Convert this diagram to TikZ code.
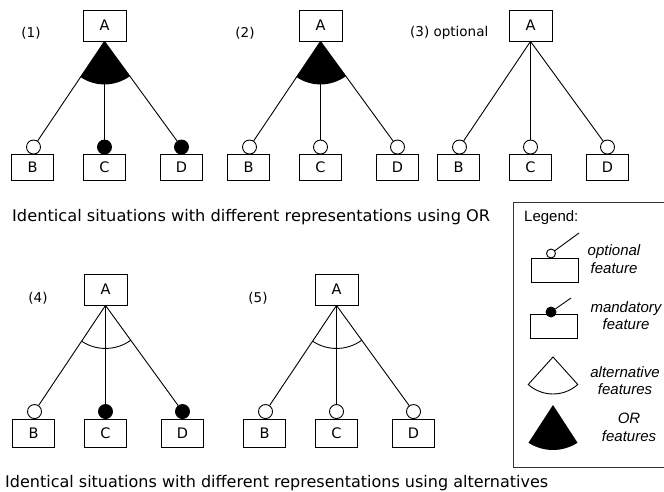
\documentclass[tikz,border=0pt]{standalone}
\usepackage{fontspec}
\setmainfont{DejaVu Sans}
\newfontfamily\legfont{Liberation Sans}
\usetikzlibrary{calc}
\tikzset{
  feat/.style={draw, line width=0.9pt, minimum width=43pt, minimum height=31pt, inner sep=0pt,
    font=\fontsize{14.5}{16}\selectfont},
  opt/.style={circle, draw, fill=white, minimum size=14pt, inner sep=0pt, line width=0.9pt},
  mand/.style={opt, fill=black},
  conn/.style={line width=0.9pt},
  lbl/.style={font=\fontsize{13.5}{16}\selectfont, inner sep=0pt},
  captxt/.style={font=\fontsize{16}{18}\selectfont, inner sep=0pt, anchor=base west},
  legtxt/.style={font=\legfont\itshape\fontsize{15}{17.5}\selectfont, align=center, inner sep=0pt},
  legbox/.style={draw, line width=0.9pt, minimum width=47pt, minimum height=24pt, inner sep=0pt},
}
% #1 id, #2 x of A, #3 y of A, #4 y of bottom boxes, #5 height of bottom boxes, #6 #7 #8 circle kinds
\newcommand{\fmtree}[8]{%
  \node[feat] (a#1) at (#2,#3) {A};
  \node[feat, minimum width=42pt, minimum height=#5pt] (b#1) at (#2-72,#4) {B};
  \node[feat, minimum width=42pt, minimum height=#5pt] (c#1) at (#2,#4) {C};
  \node[feat, minimum width=42pt, minimum height=#5pt] (d#1) at (#2+77,#4) {D};
  \node[#6] (ob#1) at ($(b#1.north)+(1,7)$) {};
  \node[#7] (oc#1) at ($(c#1.north)+(0,7)$) {};
  \node[#8] (od#1) at ($(d#1.north)+(0,7)$) {};
  \draw[conn] (a#1.south) -- (ob#1);
  \draw[conn] (a#1.south) -- (oc#1);
  \draw[conn] (a#1.south) -- (od#1);
}
\newcommand{\orsector}[1]{%
  \fill let \p1=($(ob#1)-(a#1.south)$), \p2=($(od#1)-(a#1.south)$),
    \n1={atan2(\y1,\x1)}, \n2={atan2(\y2,\x2)} in
    (a#1.south) -- ++(\n1:43pt) arc[start angle=\n1, end angle=\n2, radius=43pt] -- cycle;
}
\newcommand{\altarc}[1]{%
  \draw[conn] let \p1=($(ob#1)-(a#1.south)$), \p2=($(od#1)-(a#1.south)$),
    \n1={atan2(\y1,\x1)}, \n2={atan2(\y2,\x2)} in
    (a#1.south) ++(\n1:43pt) arc[start angle=\n1, end angle=\n2, radius=43pt];
}
\begin{document}
\begin{tikzpicture}[x=1pt,y=1pt]
\useasboundingbox (0,0) rectangle (664,492);
% top row
\fmtree{1}{104.5}{466.5}{324.5}{26}{opt}{mand}{mand}
\orsector{1}
\fmtree{2}{320.5}{466.5}{324.5}{26}{opt}{opt}{opt}
\orsector{2}
\fmtree{3}{530.5}{466.5}{324.5}{26}{opt}{opt}{opt}
\node[lbl] (l1) at (31,459) {(1)};
\node[lbl] (l2) at (245,459) {(2)};
\node[lbl, anchor=west] (l3) at (410,459) {(3) optional};
\node[captxt] (cap1) at (12,270) {\resizebox{478pt}{\height}{Identical situations with different representations using OR}};
% bottom row
\fmtree{4}{105.5}{202.5}{59}{28}{opt}{mand}{mand}
\altarc{4}
\fmtree{5}{336.5}{202.5}{59}{28}{opt}{opt}{opt}
\altarc{5}
\node[lbl] (l4) at (38,194) {(4)};
\node[lbl] (l5) at (258,194) {(5)};
\node[captxt] (cap2) at (5,4) {\resizebox{543pt}{\height}{Identical situations with different representations using alternatives}};
% legend
\node[draw=black!80, line width=1.2pt, minimum width=200pt, minimum height=265pt, anchor=north west] (legend) at (513,290) {};
\node[font=\legfont\fontsize{15}{17.5}\selectfont, anchor=west, inner sep=0pt] (legtitle) at (524,274) {Legend:};
\node[legbox] (lopt) at (554.5,222) {};
\node[circle, draw, fill=white, line width=0.9pt, minimum size=9pt, inner sep=0pt] (lo) at (551,238.5) {};
\coordinate (loe) at (579,259);
\draw[conn] (lo) -- (loe);
\node[legtxt] (toptional) at (614,233) {optional\\feature};
\node[legbox] (lman) at (554,166) {};
\node[circle, draw, fill=black, line width=0.9pt, minimum size=10pt, inner sep=0pt] (lm) at (551,180) {};
\coordinate (lme) at (571,194);
\draw[conn] (lm) -- (lme);
\node[legtxt] (tmand) at (626,176.5) {mandatory\\feature};
\coordinate (lalt) at (553,135);
\draw[conn] (lalt) -- ++(-132:37) arc[start angle=-132, end angle=-48, radius=37] -- cycle;
\node[legtxt] (talt) at (625,111.5) {alternative\\features};
\coordinate (lor) at (553,87);
\fill (lor) -- ++(-123:45) arc[start angle=-123, end angle=-57, radius=45] -- cycle;
\node[legtxt] (tor) at (629,64.5) {OR\\features};
\end{tikzpicture}
\end{document}
